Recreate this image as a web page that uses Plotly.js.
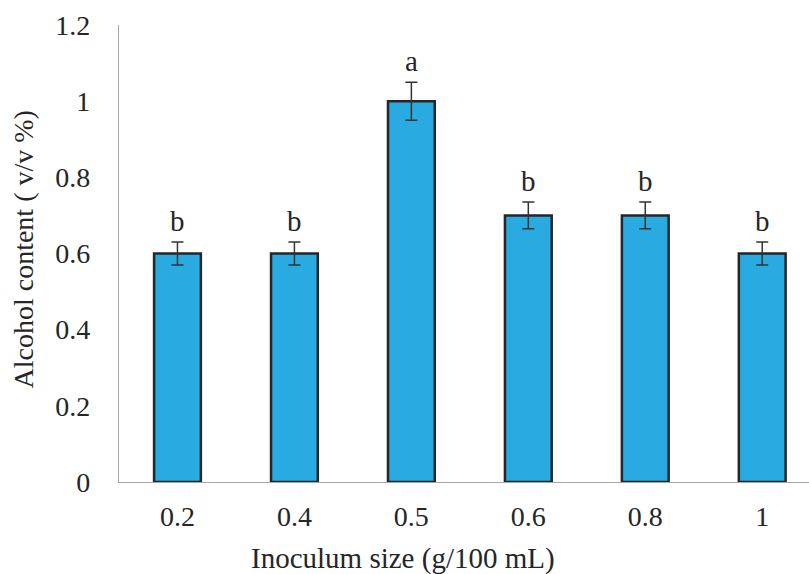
<!DOCTYPE html>
<html>
<head>
<meta charset="utf-8">
<script src="https://cdn.plot.ly/plotly-3.0.1.min.js"></script>
<style>html,body{margin:0;padding:0;background:#fff;}#chart{width:809px;height:574px;}</style>
</head>
<body>
<div id="chart"></div>
<script>
const categories = ["0.2", "0.4", "0.5", "0.6", "0.8", "1"];
const alcohol = [0.6, 0.6, 1.0, 0.7, 0.7, 0.6];
const errors = [0.03, 0.03, 0.05, 0.035, 0.035, 0.03];
const letters = ["b", "b", "a", "b", "b", "b"];
const yTicks = [0, 0.2, 0.4, 0.6, 0.8, 1, 1.2];
const yTickText = ["0", "0.2", "0.4", "0.6", "0.8", "1", "1.2"];

const fontFam = "Liberation Serif, Times New Roman, serif";
const textColor = "#262626";

const trace = {
  type: "bar",
  x: categories,
  y: alcohol,
  marker: {color: "#29ABE2", line: {color: "#262626", width: 2.5}},
  error_y: {type: "data", array: errors, visible: true, color: "#333333", thickness: 1.5, width: 6},
  hoverinfo: "none"
};

const annotations = categories.map((c, i) => ({
  x: i, y: alcohol[i] + errors[i], xref: "x", yref: "y",
  text: letters[i], showarrow: false, yanchor: "bottom", yshift: 3,
  font: {family: fontFam, size: 29, color: textColor}
}));
annotations.push({
  xref: "paper", yref: "paper", x: -0.139, y: 0.509,
  text: "Alcohol content ( v/v %)", textangle: -90, showarrow: false,
  xanchor: "center", yanchor: "middle",
  font: {family: fontFam, size: 28, color: textColor}
});
annotations.push({
  xref: "paper", yref: "paper", x: 0.4116, y: -0.167,
  text: "Inoculum size (g/100 mL)", showarrow: false,
  xanchor: "center", yanchor: "middle",
  font: {family: fontFam, size: 29, color: textColor}
});

const layout = {
  width: 809, height: 574,
  margin: {l: 119, r: 0, t: 25, b: 92},
  paper_bgcolor: "#fff", plot_bgcolor: "#fff",
  showlegend: false,
  bargap: 0.6,
  font: {family: fontFam, size: 27, color: textColor},
  xaxis: {
    type: "category", range: [-0.5, 5.4],
    showline: true, linecolor: "#A6A6A6", linewidth: 1.2,
    ticks: "", showgrid: false, zeroline: false,
    ticklabelstandoff: 9,
    tickfont: {family: fontFam, size: 28, color: textColor}
  },
  yaxis: {
    range: [0, 1.2], tickvals: yTicks, ticktext: yTickText,
    showline: true, linecolor: "#A6A6A6", linewidth: 1.2,
    ticks: "", showgrid: false, zeroline: false,
    ticklabelstandoff: 22,
    tickfont: {family: fontFam, size: 28, color: textColor}
  },
  annotations: annotations
};

Plotly.newPlot("chart", [trace], layout, {displayModeBar: false, staticPlot: true});
</script>
</body>
</html>
